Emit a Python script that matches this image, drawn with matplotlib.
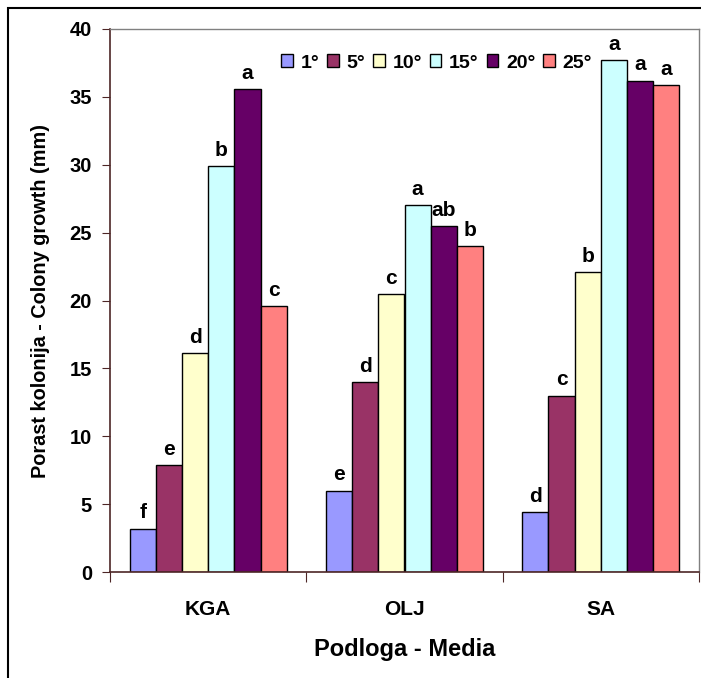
import numpy as np
import matplotlib
matplotlib.use('Agg')
import matplotlib.pyplot as plt
from matplotlib.patches import Rectangle

plt.rcParams['font.family'] = ['Liberation Sans', 'DejaVu Sans']

media = ['KGA', 'OLJ', 'SA']
temps = ['1°', '5°', '10°', '15°', '20°', '25°']
growth = {
    '1°': [3.2, 6.0, 4.4],
    '5°': [7.9, 14.0, 13.0],
    '10°': [16.1, 20.5, 22.1],
    '15°': [29.9, 27.0, 37.7],
    '20°': [35.6, 25.5, 36.2],
    '25°': [19.6, 24.0, 35.9],
}
letters = {
    '1°': ['f', 'e', 'd'],
    '5°': ['e', 'd', 'c'],
    '10°': ['d', 'c', 'b'],
    '15°': ['b', 'a', 'a'],
    '20°': ['a', 'ab', 'a'],
    '25°': ['c', 'b', 'a'],
}
colors = ['#9999FF', '#993366', '#FFFFCC', '#CCFFFF', '#660066', '#FF8080']

fig = plt.figure(figsize=(7.01, 6.78), dpi=100)
ax = fig.add_axes([110/701, 1-572/678, 589/701, 543/678])

w = 1/7.5
centers = np.arange(len(media)) + 0.5
for i, t in enumerate(temps):
    xs = centers + (i - 2.5) * w
    ax.bar(xs, growth[t], width=w, color=colors[i], edgecolor='black', linewidth=1.0, label=t)
    for x, v, s in zip(xs, growth[t], letters[t]):
        ax.text(x, v + 0.45, s, ha='center', va='bottom', fontsize=15, fontweight='bold')

ax.set_xlim(0, 3)
ax.set_ylim(0, 40)
ax.set_yticks(range(0, 41, 5))
ax.set_xticks([0, 1, 2, 3])
ax.set_xticklabels([])
ax.set_xticks(centers, minor=True)
ax.set_xticklabels(media, minor=True, fontsize=15, fontweight='bold')
ax.tick_params(axis='x', which='minor', length=0, pad=20)
ax.tick_params(axis='x', which='major', length=7, color='#4d2626', direction='out')
ax.tick_params(axis='y', length=6, color='#4d2626', direction='out', labelsize=14.5, pad=7)
for lab in ax.get_yticklabels():
    lab.set_fontweight('bold')

for side in ['left', 'bottom']:
    ax.spines[side].set_color('#4d2626')
    ax.spines[side].set_linewidth(1.2)
for side in ['top', 'right']:
    ax.spines[side].set_color('#808080')
    ax.spines[side].set_linewidth(1.0)

ax.set_ylabel('Porast kolonija - Colony growth (mm)', fontsize=14.3, fontweight='bold', labelpad=14)
ax.set_xlabel('Podloga - Media', fontsize=17, fontweight='bold', labelpad=14)

fig.legend(loc='center left', bbox_to_anchor=(281/701, 1-63/678), ncol=6, frameon=False,
           prop={'weight': 'bold', 'size': 14}, handlelength=0.6, handleheight=0.6,
           handletextpad=0.4, columnspacing=0.4, borderaxespad=0, borderpad=0)

fig.patches.append(Rectangle((8/701, -0.1), 1.2, 1.1 - 8/678, transform=fig.transFigure,
                             fill=False, edgecolor='black', linewidth=1.5))

fig.savefig('out.png', dpi=100)
